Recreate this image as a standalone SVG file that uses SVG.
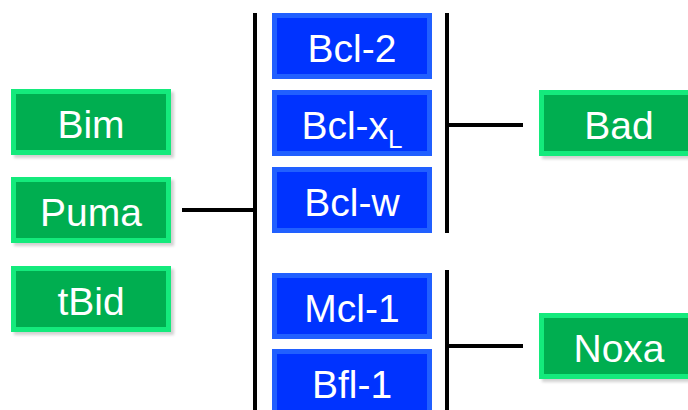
<svg xmlns="http://www.w3.org/2000/svg" width="688" height="410" viewBox="0 0 688 410">
<defs>
<filter id="sh" x="-10%" y="-20%" width="130%" height="150%">
<feGaussianBlur stdDeviation="1.5"/>
</filter>
</defs>
<style>
.shadow{fill:#000;opacity:0.18;filter:url(#sh)}
.gOut{fill:#14ea7c}
.gIn{fill:#00ae50}
.bOut{fill:#2160ff}
.bIn{fill:#0033ff}
.lbl{font-family:"Liberation Sans",Arial,sans-serif;font-size:39px;fill:#fff;text-anchor:middle}
.conn{stroke:#000;stroke-width:4;fill:none}
</style>
<rect width="688" height="410" fill="#fff"/>
<g id="connectors">
<line class="conn" x1="182" y1="210" x2="255" y2="210"/>
<line class="conn" x1="255" y1="13" x2="255" y2="410"/>
<line class="conn" x1="447" y1="13" x2="447" y2="233"/>
<line class="conn" x1="447" y1="125" x2="523" y2="125"/>
<line class="conn" x1="447" y1="270" x2="447" y2="410"/>
<line class="conn" x1="447" y1="346" x2="523" y2="346"/>
</g>
<g id="bim">
<rect class="shadow" x="14" y="92" width="160" height="66"/>
<rect class="gOut" x="11" y="89" width="160" height="66"/>
<rect class="gIn" x="16" y="94" width="150" height="56"/>
<text class="lbl" x="91" y="138">Bim</text>
</g>
<g id="puma">
<rect class="shadow" x="14" y="180" width="160" height="66"/>
<rect class="gOut" x="11" y="177" width="160" height="66"/>
<rect class="gIn" x="16" y="182" width="150" height="56"/>
<text class="lbl" x="91" y="226">Puma</text>
</g>
<g id="tbid">
<rect class="shadow" x="14" y="269" width="160" height="66"/>
<rect class="gOut" x="11" y="266" width="160" height="66"/>
<rect class="gIn" x="16" y="271" width="150" height="56"/>
<text class="lbl" x="91" y="315">tBid</text>
</g>
<g id="bcl2">
<rect class="bOut" x="272" y="13" width="160" height="66"/>
<rect class="bIn" x="277" y="18" width="150" height="56"/>
<text class="lbl" x="352" y="62">Bcl-2</text>
</g>
<g id="bclxl">
<rect class="bOut" x="272" y="90" width="160" height="66"/>
<rect class="bIn" x="277" y="95" width="150" height="56"/>
<text class="lbl" x="352" y="139">Bcl-x<tspan font-size="26" dy="9">L</tspan></text>
</g>
<g id="bclw">
<rect class="bOut" x="272" y="167" width="160" height="66"/>
<rect class="bIn" x="277" y="172" width="150" height="56"/>
<text class="lbl" x="352" y="216">Bcl-w</text>
</g>
<g id="mcl1">
<rect class="bOut" x="272" y="273" width="160" height="66"/>
<rect class="bIn" x="277" y="278" width="150" height="56"/>
<text class="lbl" x="352" y="322">Mcl-1</text>
</g>
<g id="bfl1">
<rect class="bOut" x="272" y="349" width="160" height="66"/>
<rect class="bIn" x="277" y="354" width="150" height="56"/>
<text class="lbl" x="352" y="398">Bfl-1</text>
</g>
<g id="bad">
<rect class="shadow" x="542" y="93" width="160" height="66"/>
<rect class="gOut" x="539" y="90" width="160" height="66"/>
<rect class="gIn" x="544" y="95" width="150" height="56"/>
<text class="lbl" x="619" y="139">Bad</text>
</g>
<g id="noxa">
<rect class="shadow" x="542" y="316" width="160" height="66"/>
<rect class="gOut" x="539" y="313" width="160" height="66"/>
<rect class="gIn" x="544" y="318" width="150" height="56"/>
<text class="lbl" x="619" y="362">Noxa</text>
</g>
</svg>
